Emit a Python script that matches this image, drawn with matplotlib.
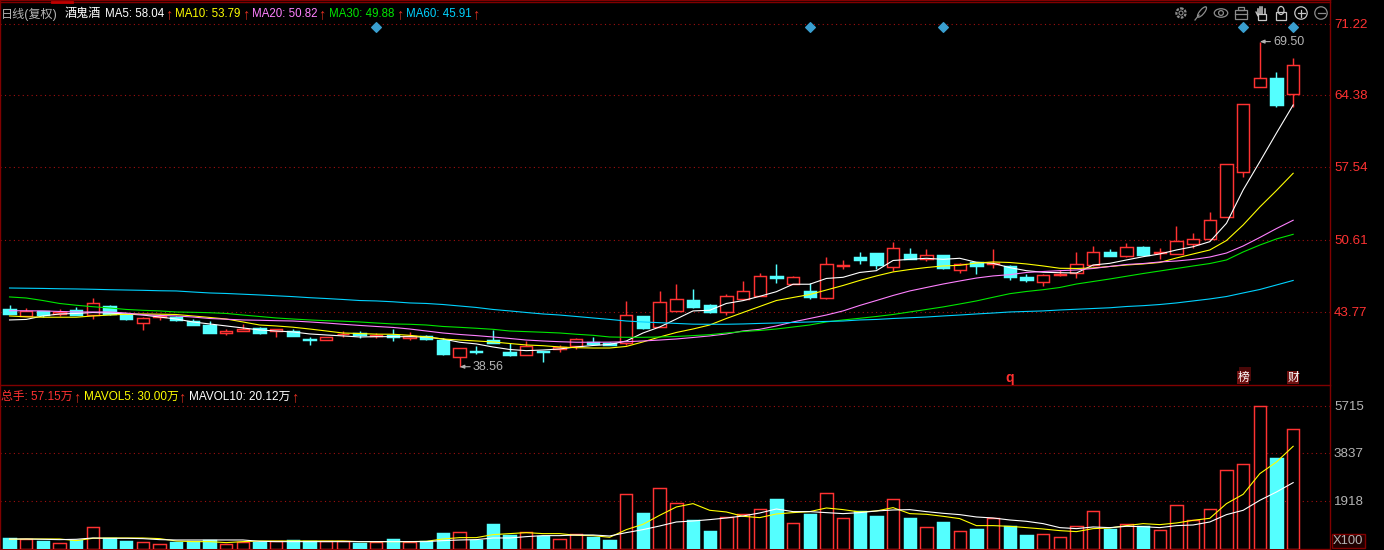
import matplotlib
matplotlib.use('Agg')
import matplotlib.pyplot as plt
from matplotlib.patches import Circle, Ellipse, Rectangle

W, H = 1384, 550
plt.rcParams['font.family'] = ['Liberation Sans', 'Noto Sans CJK SC', 'DejaVu Sans']

# open high low close
opens = [44.06, 43.42, 43.89, 43.58, 43.96, 43.51, 44.34, 43.58, 42.75, 43.27, 43.27, 42.91, 42.53, 41.77, 41.99, 42.25, 41.93, 41.99, 41.20, 41.13,
         41.65, 41.74, 41.52, 41.58, 41.33, 41.52, 41.10, 39.52, 40.06, 41.10, 39.99, 39.71, 40.09, 40.25, 40.56, 40.89, 40.79, 40.85, 43.39, 42.31,
         43.91, 44.91, 44.41, 43.80, 45.04, 45.32, 47.20, 46.46, 45.77, 45.13, 48.18, 48.97, 49.38, 48.02, 49.29, 48.84, 49.19, 47.79, 48.53, 48.31,
         48.15, 47.10, 46.65, 47.29, 47.48, 48.27, 49.48, 49.13, 49.95, 49.35, 49.32, 50.27, 50.74, 52.84, 57.12, 65.21, 66.04, 64.54]
highs = [44.44, 44.12, 43.89, 44.06, 44.27, 45.07, 44.46, 43.65, 43.27, 43.58, 43.39, 43.10, 42.91, 42.15, 42.63, 42.37, 42.12, 42.12, 41.36, 41.36,
         41.93, 41.96, 41.80, 42.15, 41.90, 41.58, 41.27, 40.32, 40.53, 42.06, 40.79, 41.01, 40.09, 40.60, 41.27, 41.42, 40.89, 44.79, 43.39, 45.77,
         46.43, 45.93, 44.53, 45.48, 46.72, 47.48, 48.34, 47.20, 46.50, 48.97, 48.72, 49.48, 49.38, 50.40, 49.83, 49.76, 49.19, 48.40, 48.53, 49.76,
         48.24, 47.39, 47.39, 47.77, 49.48, 50.05, 49.74, 50.34, 50.05, 49.86, 51.95, 51.29, 53.26, 57.82, 63.53, 69.50, 66.61, 67.91]
lows = [43.58, 43.42, 43.32, 43.42, 43.48, 43.13, 43.48, 43.01, 42.06, 43.01, 42.91, 42.53, 41.80, 41.61, 41.99, 41.68, 41.42, 41.52, 40.66, 41.13,
        41.39, 41.27, 41.27, 41.01, 41.10, 41.10, 39.68, 38.56, 39.77, 40.85, 39.58, 39.71, 39.04, 39.99, 40.22, 40.63, 40.60, 40.60, 42.18, 42.31,
        43.91, 44.15, 43.65, 43.48, 44.91, 45.32, 46.56, 46.46, 45.04, 45.04, 47.86, 48.37, 47.86, 47.70, 48.78, 48.62, 47.86, 47.51, 47.39, 47.93,
        46.82, 46.62, 46.24, 47.20, 47.00, 48.15, 49.10, 48.97, 49.19, 48.81, 49.32, 49.83, 50.74, 52.84, 56.64, 65.21, 63.30, 63.25]
closes = [43.61, 43.84, 43.48, 43.74, 43.48, 44.60, 43.58, 43.10, 43.17, 43.39, 43.01, 42.53, 41.80, 41.93, 42.15, 41.77, 42.12, 41.52, 41.13, 41.36,
          41.71, 41.58, 41.58, 41.36, 41.52, 41.20, 39.77, 40.32, 39.96, 40.85, 39.68, 40.53, 39.96, 40.44, 41.17, 40.73, 40.60, 43.46, 42.28, 44.69,
          44.98, 44.25, 43.80, 45.26, 45.74, 47.17, 47.03, 47.07, 45.23, 48.31, 48.24, 48.72, 48.27, 49.83, 48.78, 49.16, 47.98, 48.34, 48.18, 48.43,
          47.10, 46.82, 47.26, 47.39, 48.31, 49.45, 49.10, 49.93, 49.19, 49.48, 50.50, 50.69, 52.50, 57.82, 63.53, 66.01, 63.47, 67.24]

ma5 = [43.01, 43.06, 43.39, 43.58, 43.63, 43.72, 43.67, 43.58, 43.48, 43.29, 43.10, 42.82, 42.63, 42.44, 42.25, 42.06, 41.96, 41.87, 41.68, 41.58,
       41.49, 41.39, 41.42, 41.42, 41.42, 41.39, 41.20, 40.89, 40.73, 40.44, 40.20, 40.09, 40.15, 40.25, 40.44, 40.58, 40.68, 41.01, 41.77, 42.34,
       43.10, 43.87, 43.93, 44.58, 44.85, 45.26, 45.70, 46.41, 46.41, 46.96, 47.07, 47.53, 47.70, 48.67, 48.78, 48.88, 48.78, 48.88, 48.50, 48.40,
       47.99, 47.70, 47.55, 47.51, 47.48, 48.24, 48.40, 48.72, 49.03, 49.29, 49.67, 49.98, 50.46, 52.21, 55.38, 58.07, 60.80, 63.47]
ma10 = [43.39, 43.31, 43.27, 43.27, 43.27, 43.39, 43.48, 43.55, 43.58, 43.56, 43.53, 43.39, 43.25, 43.10, 42.82, 42.53, 42.44, 42.32, 42.15, 41.96,
        41.77, 41.72, 41.66, 41.65, 41.55, 41.39, 41.20, 41.10, 41.01, 40.92, 40.77, 40.63, 40.56, 40.44, 40.37, 40.34, 40.34, 40.49, 40.92, 41.39,
        41.82, 42.15, 42.53, 43.15, 43.72, 44.29, 44.86, 45.15, 45.43, 45.86, 46.29, 46.77, 47.20, 47.58, 47.81, 48.00, 48.15, 48.21, 48.43, 48.53,
        48.48, 48.34, 48.15, 47.93, 47.91, 47.96, 48.10, 48.24, 48.34, 48.48, 48.91, 49.29, 49.67, 50.57, 52.05, 53.76, 55.33, 56.97]
ma20 = [43.89, 43.88, 43.87, 43.82, 43.77, 43.77, 43.77, 43.67, 43.51, 43.44, 43.39, 43.29, 43.15, 43.08, 43.01, 42.98, 42.94, 42.91, 42.82, 42.72,
        42.60, 42.49, 42.39, 42.30, 42.15, 41.96, 41.77, 41.63, 41.52, 41.39, 41.25, 41.10, 41.01, 40.94, 40.89, 40.89, 40.90, 40.94, 41.01, 41.10,
        41.20, 41.34, 41.49, 41.68, 41.96, 42.12, 42.44, 42.82, 43.15, 43.48, 43.87, 44.39, 44.86, 45.34, 45.77, 46.10, 46.43, 46.72, 47.00, 47.20,
        47.32, 47.53, 47.62, 47.70, 47.77, 47.91, 48.10, 48.29, 48.38, 48.53, 48.62, 48.77, 49.00, 49.38, 50.05, 50.86, 51.71, 52.50]
ma30 = [45.20, 45.10, 44.86, 44.58, 44.41, 44.27, 44.15, 44.01, 43.93, 43.87, 43.77, 43.74, 43.70, 43.63, 43.48, 43.34, 43.20, 43.10, 43.01, 42.94,
        42.89, 42.82, 42.72, 42.63, 42.60, 42.53, 42.39, 42.31, 42.22, 42.12, 41.96, 41.90, 41.84, 41.77, 41.65, 41.55, 41.39, 41.36, 41.36, 41.39,
        41.44, 41.52, 41.61, 41.77, 41.91, 42.01, 42.15, 42.34, 42.53, 42.82, 43.01, 43.17, 43.34, 43.53, 43.77, 44.01, 44.25, 44.53, 44.82, 45.17,
        45.51, 45.72, 45.89, 46.10, 46.43, 46.67, 46.91, 47.17, 47.43, 47.67, 47.91, 48.15, 48.38, 48.72, 49.48, 50.14, 50.72, 51.16]
ma60 = [46.05, 46.03, 46.01, 45.98, 45.96, 45.93, 45.89, 45.86, 45.83, 45.79, 45.77, 45.67, 45.58, 45.53, 45.46, 45.39, 45.31, 45.23, 45.13, 45.05,
        44.96, 44.86, 44.82, 44.74, 44.63, 44.58, 44.48, 44.34, 44.20, 44.01, 43.87, 43.72, 43.58, 43.48, 43.34, 43.20, 43.06, 42.91, 42.82, 42.75,
        42.68, 42.61, 42.60, 42.60, 42.63, 42.68, 42.72, 42.77, 42.82, 42.87, 42.91, 43.01, 43.06, 43.15, 43.22, 43.29, 43.39, 43.48, 43.58, 43.67,
        43.77, 43.82, 43.87, 43.96, 44.03, 44.10, 44.17, 44.29, 44.37, 44.48, 44.63, 44.82, 45.01, 45.24, 45.58, 45.91, 46.34, 46.77]

volumes = [440, 400, 320, 267, 387, 907, 453, 320, 307, 227, 280, 320, 373, 227, 280, 307, 347, 360, 347, 320,
           320, 240, 307, 400, 307, 333, 640, 680, 360, 1000, 560, 707, 547, 427, 627, 480, 360, 2227, 1440, 2467,
           1867, 1187, 720, 1307, 1427, 1627, 2000, 1067, 1400, 2267, 1267, 1547, 1320, 2027, 1240, 907, 1080, 747, 800, 1267,
           947, 560, 627, 507, 947, 1547, 800, 1027, 920, 787, 1787, 1187, 1627, 3187, 3427, 5715, 3640, 4827]
mavol5 = [400, 413, 413, 413, 347, 440, 453, 453, 453, 427, 333, 307, 307, 267, 307, 333, 333, 333, 333, 333,
          333, 307, 307, 307, 307, 320, 413, 467, 467, 587, 627, 667, 627, 627, 560, 547, 480, 787, 1000, 1360,
          1693, 1827, 1560, 1493, 1320, 1267, 1413, 1467, 1507, 1653, 1587, 1493, 1533, 1667, 1427, 1400, 1320, 1227, 947, 947,
          920, 867, 813, 747, 707, 827, 853, 947, 1027, 987, 1053, 1160, 1240, 1827, 2200, 3027, 3493, 4120]
mavol10 = [413, 413, 400, 387, 400, 453, 440, 440, 427, 387, 373, 373, 373, 373, 373, 320, 307, 307, 307, 307,
           307, 307, 307, 307, 307, 307, 347, 373, 387, 453, 453, 507, 547, 547, 573, 573, 533, 667, 787, 933,
           1093, 1133, 1187, 1253, 1333, 1453, 1613, 1507, 1507, 1467, 1427, 1467, 1533, 1573, 1587, 1507, 1440, 1387, 1293, 1253,
           1173, 1120, 1027, 867, 827, 893, 867, 920, 907, 867, 947, 973, 1093, 1387, 1560, 1960, 2293, 2667]

price_ticks = [71.22, 64.38, 57.54, 50.61, 43.77]
vol_ticks = [5715, 3837, 1918]
diamond_idx = [22, 48, 56, 74, 77]

RED = '#ff3232'
CYAN = '#54ffff'
DARK = '#800000'
GRID = '#a01010'
GREY = '#b4b4b4'


def fx(px):
    return px / W


def fy(py):
    return 1 - py / H


def put(x, y, s, color, size=8.3, **kw):
    fig.text(fx(x), fy(y), s, color=color, fontsize=size, va='center', ha='left', **kw)


def arrow(x, y):
    put(x, y, '↑', '#e03020', size=10.5)


def draw_candles(ax):
    for i in range(len(opens)):
        up = closes[i] >= opens[i]
        c = RED if up else CYAN
        top = max(opens[i], closes[i])
        bot = min(opens[i], closes[i])
        ax.plot([i, i], [lows[i], highs[i]], color=c, lw=1.05, zorder=2, solid_capstyle='butt')
        ax.add_patch(Rectangle((i - 0.37, bot), 0.74, top - bot, facecolor='black' if up else c,
                               edgecolor=c, lw=1.05, zorder=3))


fig = plt.figure(figsize=(W / 100, H / 100), dpi=100, facecolor='black')

# price panel
ax1 = fig.add_axes([0, fy(385), fx(1330), fy(0) - fy(385)], facecolor='black')
ax1.set_xlim(-0.57, 79.21)
ax1.set_ylim(36.82, 73.46)
draw_candles(ax1)
for values, c in [(ma5, 'white'), (ma10, '#ffff00'), (ma20, '#ff80ff'), (ma30, '#00e600'), (ma60, '#00d2ff')]:
    ax1.plot(range(len(values)), values, color=c, lw=0.8, zorder=4)
for t in price_ticks:
    ax1.axhline(t, color=GRID, lw=0.8, ls=(0, (1, 3)), zorder=1)
    fig.text(fx(1334), (ax1.transData.transform((0, t))[1] - 1) / H, '%.2f' % t, color=RED, fontsize=9.6, va='center')
ax1.scatter(diamond_idx, [70.9] * len(diamond_idx), marker='D', s=24, color='#3a9fd0', zorder=5)

# low and high labels
ax1.annotate('38.56', xy=(27, 38.56), xytext=(27.8, 38.56), color=GREY, fontsize=9, va='center', ha='left',
             arrowprops=dict(arrowstyle='-|>,head_width=0.12,head_length=0.3', color=GREY, lw=0.8, shrinkA=0, shrinkB=0), zorder=6)
ax1.annotate('69.50', xy=(75, 69.50), xytext=(75.8, 69.50), color=GREY, fontsize=9, va='center', ha='left',
             arrowprops=dict(arrowstyle='-|>,head_width=0.12,head_length=0.3', color=GREY, lw=0.8, shrinkA=0, shrinkB=0), zorder=6)

# volume panel
ax2 = fig.add_axes([0, 1 - 549.3 / H, fx(1330), (549.3 - 386) / H], facecolor='black')
ax2.set_xlim(-0.57, 79.21)
ax2.set_ylim(0, 6532)
for i, v in enumerate(volumes):
    up = closes[i] >= opens[i]
    c = RED if up else CYAN
    ax2.add_patch(Rectangle((i - 0.37, 0), 0.74, v, facecolor='black' if up else c, edgecolor=c, lw=1.05, zorder=3))
ax2.plot(range(len(mavol5)), mavol5, color='#ffff00', lw=0.8, zorder=4)
ax2.plot(range(len(mavol10)), mavol10, color='white', lw=0.8, zorder=5)
for t in vol_ticks:
    ax2.axhline(t, color=GRID, lw=0.8, ls=(0, (1, 3)), zorder=1)
    fig.text(fx(1334), (ax2.transData.transform((0, t))[1] - 1) / H, str(t), color=GREY, fontsize=9.6, va='center')

for ax in (ax1, ax2):
    ax.set_xticks([])
    ax.set_yticks([])
    for side in ax.spines:
        ax.spines[side].set_color(DARK)
        ax.spines[side].set_linewidth(1.0)
    ax.spines['bottom'].set_visible(ax is ax2)
    ax.spines['top'].set_visible(ax is ax1)

# frame lines between panels and along the top
fig.add_artist(plt.Line2D([0, fx(1330)], [fy(385), fy(385)], color=DARK, lw=1.0))
fig.add_artist(plt.Line2D([0, fx(1330)], [fy(1.5), fy(1.5)], color=DARK, lw=1.0))
fig.add_artist(plt.Line2D([fx(52), fx(72)], [fy(1.5), fy(1.5)], color='#c00000', lw=2.0))

# header legend
put(1, 14, '日线(复权)', GREY, size=8.7)
put(65, 14, '酒鬼酒', 'white', size=8.7)
header = [(105, 'MA5: 58.04', 'white', 165), (175, 'MA10: 53.79', '#ffff00', 242), (252, 'MA20: 50.82', '#ff80ff', 318),
          (329, 'MA30: 49.88', '#00e600', 396), (406, 'MA60: 45.91', '#00d2ff', 472)]
for x, s, c, a_x in header:
    put(x, 14, s, c)
    arrow(a_x, 14)

# volume legend
put(1, 397, '总手: 57.15万', RED, size=8.5)
arrow(73, 397)
put(84, 397, 'MAVOL5: 30.00万', '#ffff00', size=8.5)
arrow(178, 397)
put(189, 397, 'MAVOL10: 20.12万', 'white', size=8.5)
arrow(291, 397)

# event marks
put(1005, 378, 'q', '#ff3030', size=10, fontweight='bold')
fig.add_artist(Rectangle((fx(1239), fy(381)), fx(12), 14 / H, transform=fig.transFigure, facecolor='#4a0808', edgecolor='none'))
fig.add_artist(Rectangle((fx(1237), fy(384)), fx(12), 13 / H, transform=fig.transFigure, facecolor='#701010', edgecolor='none'))
fig.add_artist(Rectangle((fx(1287), fy(384)), fx(12), 13 / H, transform=fig.transFigure, facecolor='#701010', edgecolor='none'))
put(1237.5, 377.5, '榜', 'white', size=8.5)
put(1287.5, 377.5, '财', 'white', size=8.5)

# X100 box
fig.add_artist(Rectangle((fx(1332), fy(548)), fx(33), 14 / H, transform=fig.transFigure, facecolor='#200000', edgecolor=DARK, lw=1))
put(1333, 541, 'X100', GREY, size=9.4)

# toolbar icons
tb = fig.add_axes([0, 0, 1, 1], facecolor='none')
tb.set_xlim(0, W)
tb.set_ylim(H, 0)
tb.axis('off')
ic = '#8c8c8c'
ic2 = '#c8c8c8'
tb.add_patch(Circle((1181, 13), 4.6, fill=False, ec=ic, lw=1.6, ls=(0, (1.2, 0.6))))
tb.add_patch(Circle((1181, 13), 2, fill=False, ec=ic, lw=0.8))
tb.add_patch(Ellipse((1202, 12), 4.5, 13, angle=40, fill=False, ec=ic, lw=0.9))
tb.plot([1195, 1199], [20, 15], color=ic, lw=0.9)
tb.add_patch(Ellipse((1221, 13), 13.5, 8.5, fill=False, ec=ic, lw=0.9))
tb.add_patch(Circle((1221, 13), 2.4, fill=False, ec=ic, lw=0.9))
tb.add_patch(Rectangle((1235, 10), 12, 9, fill=False, ec=ic, lw=0.9))
tb.add_patch(Rectangle((1238, 7), 6, 3, fill=False, ec=ic, lw=0.9))
tb.plot([1235, 1247], [14, 14], color=ic, lw=0.9)
for dx, top in [(-3.5, 9), (-1.2, 7), (1.2, 7), (3.5, 9)]:
    tb.plot([1261 + dx, 1261 + dx], [top, 14], color=ic2, lw=1.1)
tb.plot([1256, 1258, 1258.5], [12, 16, 14], color=ic2, lw=0.9)
tb.add_patch(Rectangle((1257.5, 13.5), 8, 6, fill=False, ec=ic2, lw=0.9))
tb.add_patch(Rectangle((1276, 11.5), 10, 8, fill=False, ec=ic2, lw=0.9))
tb.add_patch(Ellipse((1281, 10.5), 6, 8, fill=False, ec=ic2, lw=0.9))
for cx in (1301, 1321):
    tb.add_patch(Circle((cx, 13), 6.2, fill=False, ec=ic2 if cx == 1301 else ic, lw=0.9))
    tb.plot([cx - 3.5, cx + 3.5], [13, 13], color=ic2 if cx == 1301 else ic, lw=0.9)
tb.plot([1301, 1301], [9.5, 16.5], color=ic2, lw=0.9)

fig.savefig('out.png', dpi=100, facecolor='black')
